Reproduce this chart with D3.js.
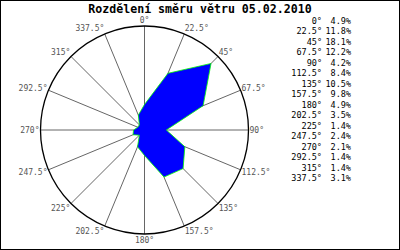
<!DOCTYPE html>
<html>
<head>
<meta charset="utf-8">
<script src="https://cdn.jsdelivr.net/npm/d3@7"></script>
<style>
    body { margin: 0; background: #fff; }
    svg { display: block; }
</style>
</head>
<body>
<svg id="chart" width="400" height="250"></svg>
<script>
var title = "Rozdělení směru větru 05.02.2010";
var directions = [0, 22.5, 45, 67.5, 90, 112.5, 135, 157.5, 180, 202.5, 225, 247.5, 270, 292.5, 315, 337.5];
var percents = [4.9, 11.8, 18.1, 12.2, 4.2, 8.4, 10.5, 9.8, 4.9, 3.5, 1.4, 2.4, 2.1, 1.4, 1.4, 3.1];
var maxPercent = 20;

var svg = d3.select('#chart');
var cx = 144.5, cy = 130, radius = 104;
var mono = "'DejaVu Sans Mono', 'Liberation Mono', monospace";

svg.append('rect')
    .attr('x', 0.5).attr('y', 0.5).attr('width', 399).attr('height', 249)
    .attr('fill', '#fff').attr('stroke', '#000');

svg.append('text')
    .attr('x', 200).attr('y', 13)
    .attr('text-anchor', 'middle')
    .style('font-family', mono).style('font-weight', 'bold').style('font-size', '11.6px')
    .text(title);

var r = d3.scaleLinear().domain([0, maxPercent]).range([0, radius]);
var toRad = function (deg) { return deg * Math.PI / 180; };

var g = svg.append('g').attr('transform', 'translate(' + cx + ',' + cy + ')');

//spokes
g.selectAll('line.spoke').data(directions).enter().append('line')
    .attr('class', 'spoke')
    .attr('x1', 0).attr('y1', 0)
    .attr('x2', function (d) { return Math.sin(toRad(d)) * radius; })
    .attr('y2', function (d) { return -Math.cos(toRad(d)) * radius; })
    .attr('stroke', '#666').attr('stroke-width', 1);

g.append('circle')
    .attr('r', radius).attr('fill', 'none')
    .attr('stroke', '#000').attr('stroke-width', 1.3);

//direction labels round the circle
g.selectAll('text.dir').data(directions).enter().append('text')
    .attr('class', 'dir')
    .attr('x', function (d) { return Math.sin(toRad(d)) * (radius + 1); })
    .attr('y', function (d) { return -Math.cos(toRad(d)) * (radius + 6); })
    .attr('dy', '0.35em')
    .attr('text-anchor', function (d) {
        if (d === 0 || d === 180) return 'middle';
        return d < 180 ? 'start' : 'end';
    })
    .attr('fill', '#555')
    .style('font-family', mono).style('font-size', '8px')
    .text(function (d) { return d + '°'; });

//rose polygon
var rose = d3.lineRadial()
    .angle(function (d, i) { return toRad(directions[i]); })
    .radius(function (d) { return r(d); })
    .curve(d3.curveLinearClosed);

g.append('path')
    .datum(percents)
    .attr('d', rose)
    .attr('fill', '#0000ff')
    .attr('stroke', '#00ff00').attr('stroke-width', 0.8);

//legend table
var legend = svg.append('g').style('font-family', mono).style('font-size', '8.5px');
var rowY = function (i) { return 21 + i * 10.5; };

legend.selectAll('text.deg').data(directions).enter().append('text')
    .attr('class', 'deg')
    .attr('x', 322).attr('y', function (d, i) { return rowY(i); })
    .attr('dy', '0.35em').attr('text-anchor', 'end')
    .text(function (d) { return d + '°'; });

legend.selectAll('text.pct').data(percents).enter().append('text')
    .attr('class', 'pct')
    .attr('x', 351).attr('y', function (d, i) { return rowY(i); })
    .attr('dy', '0.35em').attr('text-anchor', 'end')
    .text(function (d) { return d.toFixed(1) + '%'; });
</script>
</body>
</html>
